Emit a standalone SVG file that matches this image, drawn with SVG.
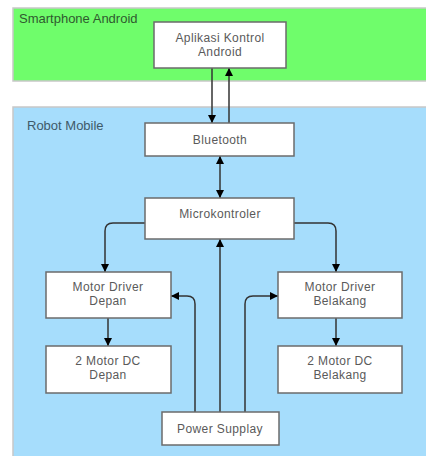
<svg xmlns="http://www.w3.org/2000/svg" width="426" height="456" viewBox="0 0 426 456">
<style>
.node rect{fill:#fff;stroke:#6b6b6b;stroke-width:1.5}
.node text{font-family:"Liberation Sans",Arial,sans-serif;font-size:12px;letter-spacing:0.4px;fill:#5a5a5a;text-anchor:middle}
.lbl{font-family:"Liberation Sans",Arial,sans-serif;font-size:13px}
#connectors path{fill:none;stroke:#333;stroke-width:1.5}
</style>
<defs>
<marker id="ah" viewBox="0 0 10 10" refX="10" refY="5" markerWidth="8" markerHeight="8" markerUnits="userSpaceOnUse" orient="auto-start-reverse">
<path d="M0,0 L10,5 L0,10 z" fill="#000"/>
</marker>
</defs>
<rect width="426" height="456" fill="#fff"/>
<g id="smartphone">
<rect x="13" y="8" width="420" height="73" fill="#6ffd6b" stroke="#c8c8c8" stroke-width="1.5"/>
<text class="lbl" x="19" y="23" fill="#2f5a2f">Smartphone Android</text>
</g>
<g id="robot">
<rect x="13" y="107" width="420" height="360" fill="#a6ddfc" stroke="#c8c8c8" stroke-width="1.5"/>
<text class="lbl" x="27" y="130" fill="#3e5a6a">Robot Mobile</text>
</g>
<g id="connectors">
<path d="M212,68 V123" marker-end="url(#ah)"/>
<path d="M229,123 V68" marker-end="url(#ah)"/>
<path d="M220,156 V198" marker-start="url(#ah)" marker-end="url(#ah)"/>
<path d="M145,223 H113 Q105,223 105,231 V272" marker-end="url(#ah)"/>
<path d="M294,223 H328 Q336,223 336,231 V272" marker-end="url(#ah)"/>
<path d="M108,318 V346" marker-end="url(#ah)"/>
<path d="M336,318 V346" marker-end="url(#ah)"/>
<path d="M220,412 V239" marker-end="url(#ah)"/>
<path d="M195,412 V304 Q195,296 187,296 H171" marker-end="url(#ah)"/>
<path d="M245,412 V304 Q245,296 253,296 H278" marker-end="url(#ah)"/>
</g>
<g id="aplikasi" class="node">
<rect x="154" y="22" width="132" height="46"/>
<text x="220" y="42">Aplikasi Kontrol</text>
<text x="220" y="56">Android</text>
</g>
<g id="bluetooth" class="node">
<rect x="145" y="123" width="149" height="33"/>
<text x="220" y="144">Bluetooth</text>
</g>
<g id="mikrokontroler" class="node">
<rect x="145" y="198" width="149" height="41"/>
<text x="220" y="218">Microkontroler</text>
</g>
<g id="driver-depan" class="node">
<rect x="46" y="272" width="125" height="46"/>
<text x="108" y="291">Motor Driver</text>
<text x="108" y="305">Depan</text>
</g>
<g id="driver-belakang" class="node">
<rect x="278" y="272" width="124" height="46"/>
<text x="340" y="291">Motor Driver</text>
<text x="340" y="305">Belakang</text>
</g>
<g id="dc-depan" class="node">
<rect x="46" y="346" width="125" height="47"/>
<text x="108" y="365">2 Motor DC</text>
<text x="108" y="379">Depan</text>
</g>
<g id="dc-belakang" class="node">
<rect x="278" y="346" width="124" height="47"/>
<text x="340" y="365">2 Motor DC</text>
<text x="340" y="379">Belakang</text>
</g>
<g id="power" class="node">
<rect x="162" y="412" width="117" height="33"/>
<text x="220" y="433">Power Supplay</text>
</g>
</svg>
